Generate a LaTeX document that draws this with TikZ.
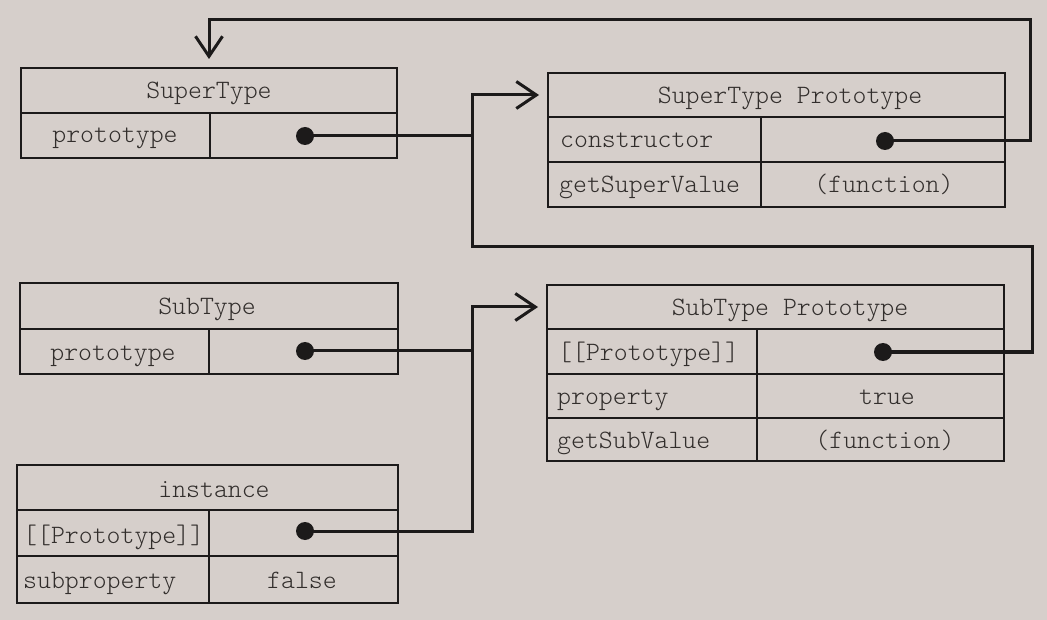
\documentclass[tikz,border=0pt]{standalone}
\usepackage{fontspec}
\setmonofont{Latin Modern Mono Light}
\usetikzlibrary{arrows.meta}
\definecolor{paper}{RGB}{214,207,203}
\definecolor{ink}{RGB}{28,26,26}
\definecolor{txt}{RGB}{50,46,44}
\begin{document}
\begin{tikzpicture}[x=1pt,y=-1pt,
  cell/.style={draw=ink, line width=2.6pt, inner sep=0pt, outer sep=0pt, anchor=north west},
  lbl/.style={font=\fontsize{26.5}{30}\selectfont\ttfamily, text=txt, inner sep=0pt, anchor=base},
  lbll/.style={lbl, anchor=base west},
  dot/.style={circle, fill=ink, inner sep=0pt, minimum size=18pt},
  link/.style={draw=ink, line width=3pt},
  arr/.style={link, -{Straight Barb[length=20pt,width=27pt,line width=3pt]}, shorten >=9pt}]
\fill[paper] (0,0) rectangle (1047,620);
\useasboundingbox (0,0) rectangle (1047,620);

% SuperType
\node[cell, minimum width=376pt, minimum height=45pt] (st) at (21,68) {};
\node[cell, minimum width=189pt, minimum height=45pt] (stk) at (21,113) {};
\node[cell, minimum width=187pt, minimum height=45pt] (stv) at (210,113) {};
\node[lbl] (stT) at (209,99) {SuperType};
\node[lbl] (stkT) at (115,143) {prototype};

% SuperType Prototype
\node[cell, minimum width=457pt, minimum height=44pt] (spt) at (548,73) {};
\node[cell, minimum width=213pt, minimum height=45pt] (sptk1) at (548,117) {};
\node[cell, minimum width=244pt, minimum height=45pt] (sptv1) at (761,117) {};
\node[cell, minimum width=213pt, minimum height=45pt] (sptk2) at (548,162) {};
\node[cell, minimum width=244pt, minimum height=45pt] (sptv2) at (761,162) {};
\node[lbl] (sptT) at (790,103.5) {SuperType Prototype};
\node[lbll] (sptk1T) at (560,148) {constructor};
\node[lbll] (sptk2T) at (559,193) {getSuperValue};
\node[lbl] (sptv2T) at (884,193) {(function)};

% SubType
\node[cell, minimum width=378pt, minimum height=46pt] (sub) at (20,283) {};
\node[cell, minimum width=189pt, minimum height=45pt] (subk) at (20,329) {};
\node[cell, minimum width=189pt, minimum height=45pt] (subv) at (209,329) {};
\node[lbl] (subT) at (207,314.5) {SubType};
\node[lbl] (subkT) at (113,360) {prototype};

% SubType Prototype
\node[cell, minimum width=457pt, minimum height=44pt] (subp) at (547,285) {};
\node[cell, minimum width=210pt, minimum height=45pt] (subpk1) at (547,329) {};
\node[cell, minimum width=247pt, minimum height=45pt] (subpv1) at (757,329) {};
\node[cell, minimum width=210pt, minimum height=44pt] (subpk2) at (547,374) {};
\node[cell, minimum width=247pt, minimum height=44pt] (subpv2) at (757,374) {};
\node[cell, minimum width=210pt, minimum height=43pt] (subpk3) at (547,418) {};
\node[cell, minimum width=247pt, minimum height=43pt] (subpv3) at (757,418) {};
\node[lbl] (subpT) at (790,316) {SubType Prototype};
\node[lbll] (subpk1T) at (558,360) {[[Prototype]]};
\node[lbll] (subpk2T) at (557,404.5) {property};
\node[lbll] (subpk3T) at (557,448) {getSubValue};
\node[lbl] (subpv2T) at (887,404.5) {true};
\node[lbl] (subpv3T) at (885,448) {(function)};

% instance
\node[cell, minimum width=381pt, minimum height=45pt] (inst) at (17,465) {};
\node[cell, minimum width=192pt, minimum height=46pt] (instk1) at (17,510) {};
\node[cell, minimum width=189pt, minimum height=46pt] (instv1) at (209,510) {};
\node[cell, minimum width=192pt, minimum height=47pt] (instk2) at (17,556) {};
\node[cell, minimum width=189pt, minimum height=47pt] (instv2) at (209,556) {};
\node[lbl] (instT) at (214,497) {instance};
\node[lbll] (instk1T) at (23,543) {[[Prototype]]};
\node[lbll] (instk2T) at (23,588) {subproperty};
\node[lbl] (instv2T) at (302,588) {false};

% dots
\node[dot] (stD) at (305,136) {};
\node[dot] (consD) at (885,141) {};
\node[dot] (subD) at (305,351) {};
\node[dot] (subpD) at (883,352) {};
\node[dot] (instD) at (305,531) {};

% routing points
\coordinate (busA) at (472,247);
\coordinate (r1) at (1030,20);
\coordinate (r2) at (1032,247);

% connectors
\draw[arr] (stD.center) -- (stD.center -| busA) |- (spt.west);
\draw[link] (subpD.center) -| (r2) -- (busA) -- (busA |- stD.center);
\draw[arr] (consD.center) -| (r1) -| (st.north);
\draw[arr] (subD.center) -- (subD.center -| busA) |- (subp.west);
\draw[link] (instD.center) -- (instD.center -| busA) -- (busA |- subD.center);
\end{tikzpicture}
\end{document}
